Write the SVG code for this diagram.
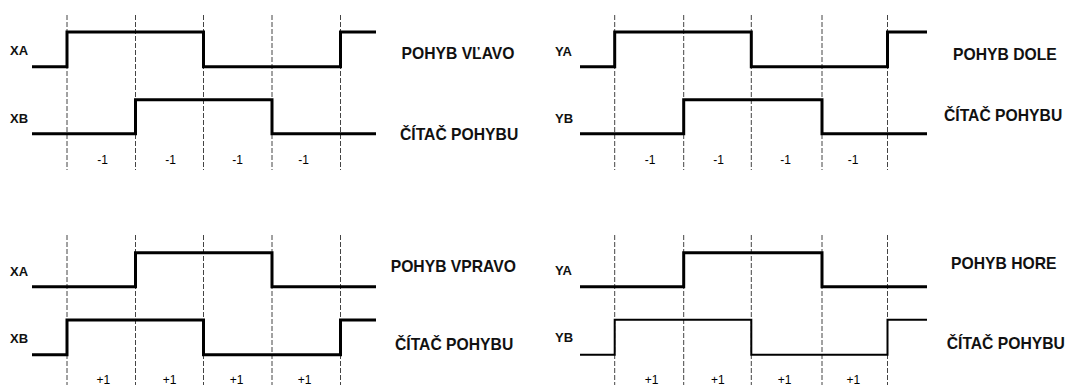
<svg xmlns="http://www.w3.org/2000/svg" width="1065" height="385" viewBox="0 0 1065 385">
<style>
.grid{stroke:#444;stroke-width:1;stroke-dasharray:5 2;fill:none}
.w{stroke:#000;stroke-width:3;fill:none;stroke-linejoin:miter;stroke-linecap:butt}
.wt{stroke:#000;stroke-width:2;fill:none}
.sig{font-family:"Liberation Sans",Arial,sans-serif;font-weight:bold;font-size:13px;fill:#111}
.cnt{font-family:"Liberation Sans",Arial,sans-serif;font-size:12px;fill:#000;text-anchor:middle}
.ttl{font-family:"Liberation Sans",Arial,sans-serif;font-weight:bold;font-size:15.7px;fill:#111}
</style>
<rect width="1065" height="385" fill="#fff"/>
<g id="grid">
<path class="grid" d="M67,15V170M135.5,15V170M203.5,15V170M272,15V170M340.5,15V170"/>
<path class="grid" d="M614.7,15V170M683.7,15V170M751.3,15V170M822,15V170M887.5,15V170"/>
<path class="grid" d="M67,235V385M135.5,235V385M203.5,235V385M272,235V385M340.5,235V385"/>
<path class="grid" d="M614.7,235V385M683.7,235V385M751.3,235V385M822,235V385M887.5,235V385"/>
</g>
<g id="panel-left-top">
<path class="w" d="M32,66.7H67V32H203.5V66.7H340.5V32H376"/>
<path class="w" d="M32,133.7H135.5V99.7H272V133.7H376"/>
<text class="sig" x="10" y="55">XA</text>
<text class="sig" x="10" y="122.5">XB</text>
<text class="cnt" x="102.5" y="164">-1</text>
<text class="cnt" x="170.5" y="164">-1</text>
<text class="cnt" x="237.5" y="164">-1</text>
<text class="cnt" x="303.5" y="164">-1</text>
<text class="ttl" x="401.5" y="58.5">POHYB VĽAVO</text>
<text class="ttl" x="400" y="139.5">ČÍTAČ POHYBU</text>
</g>
<g id="panel-right-top">
<path class="w" d="M580,66.7H614.7V32H751.3V66.7H887.5V32H927"/>
<path class="w" d="M580,133.7H683.7V99.7H822V133.7H927"/>
<text class="sig" x="555" y="55.5">YA</text>
<text class="sig" x="555" y="122.5">YB</text>
<text class="cnt" x="650" y="164">-1</text>
<text class="cnt" x="718.5" y="164">-1</text>
<text class="cnt" x="785.5" y="164">-1</text>
<text class="cnt" x="853" y="164">-1</text>
<text class="ttl" x="953" y="60">POHYB DOLE</text>
<text class="ttl" x="944" y="120.5">ČÍTAČ POHYBU</text>
</g>
<g id="panel-left-bottom">
<path class="w" d="M32,286.7H135.5V252.7H272V286.7H376"/>
<path class="w" d="M32,354.7H67V320H203.5V354.7H340.5V320H376"/>
<text class="sig" x="10" y="276">XA</text>
<text class="sig" x="10" y="342.7">XB</text>
<text class="cnt" x="103.3" y="384">+1</text>
<text class="cnt" x="169.7" y="384">+1</text>
<text class="cnt" x="236.7" y="384">+1</text>
<text class="cnt" x="304.7" y="384">+1</text>
<text class="ttl" x="390.7" y="272.3">POHYB VPRAVO</text>
<text class="ttl" x="395" y="350">ČÍTAČ POHYBU</text>
</g>
<g id="panel-right-bottom">
<path class="w" d="M580,286.7H683.7V252.7H822V286.7H927"/>
<path class="wt" d="M580,354.7H614.7V319.7H751.3V354.7H887.5V319.7H927"/>
<text class="sig" x="555" y="275">YA</text>
<text class="sig" x="555" y="342">YB</text>
<text class="cnt" x="651.7" y="384">+1</text>
<text class="cnt" x="717.8" y="384">+1</text>
<text class="cnt" x="784.5" y="384">+1</text>
<text class="cnt" x="853.3" y="384">+1</text>
<text class="ttl" x="951" y="269">POHYB HORE</text>
<text class="ttl" x="946.7" y="349.3">ČÍTAČ POHYBU</text>
</g>
</svg>
